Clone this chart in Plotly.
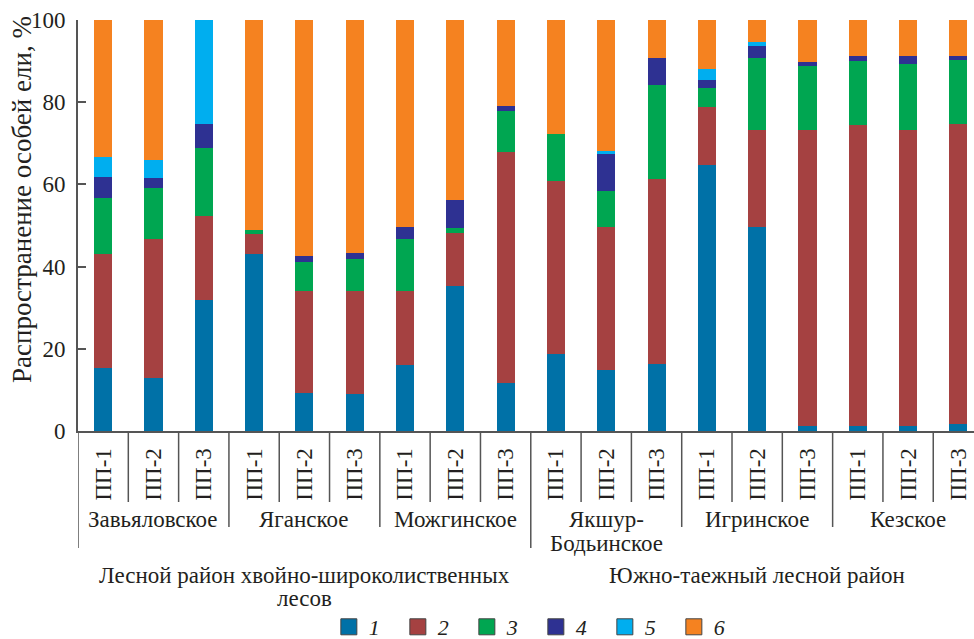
import plotly.graph_objects as go

# ---- data ----
regions = ["Лесной район хвойно-широколиственных<br>лесов", "Южно-таежный лесной район"]
locations = ["Завьяловское", "Яганское", "Можгинское", "Якшур-<br>Бодьинское", "Игринское", "Кезское"]
plots = ["ПП-1", "ПП-2", "ПП-3"]
series_names = ["1", "2", "3", "4", "5", "6"]
colors = ["#0071a7", "#a54141", "#00a651", "#2e3192", "#00aeef", "#f58220"]

s1 = [15.3, 12.9, 31.9, 43.1, 9.2, 9.0, 16.0, 35.3, 11.6, 18.8, 14.9, 16.3, 64.7, 49.6, 1.2, 1.2, 1.2, 1.7]
s2 = [27.7, 33.8, 20.5, 4.9, 24.8, 25.0, 18.0, 12.8, 56.3, 42.0, 34.7, 45.0, 14.1, 23.7, 72.1, 73.2, 72.1, 73.0]
s3 = [13.7, 12.4, 16.5, 0.9, 7.1, 7.8, 12.7, 1.3, 9.9, 11.4, 8.8, 22.9, 4.6, 17.4, 15.5, 15.6, 16.0, 15.6]
s4 = [5.1, 2.4, 5.8, 0.0, 1.4, 1.5, 2.9, 6.8, 1.3, 0.0, 9.0, 6.5, 2.0, 3.0, 1.0, 1.2, 1.9, 0.9]
s5 = [4.8, 4.5, 25.3, 0.0, 0.0, 0.0, 0.0, 0.0, 0.0, 0.0, 0.7, 0.0, 2.7, 0.9, 0.0, 0.0, 0.0, 0.0]
s6 = [33.4, 34.0, 0.0, 51.1, 57.5, 56.7, 50.4, 43.8, 20.9, 27.8, 31.9, 9.3, 11.9, 5.4, 10.2, 8.8, 8.8, 8.8]
y_ticks = [0, 20, 40, 60, 80, 100]
y_title = "Распространение особей ели, %"

series = [s1, s2, s3, s4, s5, s6]
n = len(locations) * len(plots)
xs = list(range(n))
tick_text = plots * len(locations)

FONT = "Liberation Serif"
TXT = "#231f20"
AX = "#555555"

fig = go.Figure()
for name, vals, col in zip(series_names, series, colors):
    fig.add_trace(go.Bar(x=xs, y=vals, name=name, width=0.36, legendgroup=name,
                         showlegend=False, marker=dict(color=col, line=dict(width=0))))
# legend keys (square swatches with a thin dark border)
for name, col in zip(series_names, colors):
    fig.add_trace(go.Scatter(x=[None], y=[None], mode="markers", name=name, legendgroup=name,
                             marker=dict(symbol="square", size=16, color=col,
                                         line=dict(color="#444444", width=1))))

# paper y positions for pixel rows (plot area 20..431 px)
def py(p):
    return (431 - p) / 411.0

shapes = []
line_style = dict(color=AX, width=1.5)
per = len(plots)
for i in range(n - 1):
    bx = i + 0.5
    if (i + 1) % per != 0:
        y1 = py(502)
    elif (i + 1) == n // 2:
        y1 = py(548)
    else:
        y1 = py(527)
    shapes.append(dict(type="line", xref="x", yref="paper", x0=bx, x1=bx, y0=0, y1=y1, line=line_style))
shapes.append(dict(type="line", xref="x", yref="paper", x0=-0.5, x1=-0.5, y0=0, y1=py(548), line=line_style))

annotations = []
for g, loc in enumerate(locations):
    cx = g * per + (per - 1) / 2
    parts = loc.split("<br>")
    for k, part in enumerate(parts):
        annotations.append(dict(xref="x", yref="paper", x=cx, y=py(519 + 24 * k), text=part,
                                showarrow=False, xanchor="center", yanchor="middle",
                                font=dict(family=FONT, size=23, color=TXT)))
half = n // len(regions)
for r, reg in enumerate(regions):
    cx = r * half + (half - 1) / 2
    parts = reg.split("<br>")
    for k, part in enumerate(parts):
        annotations.append(dict(xref="x", yref="paper", x=cx, y=py(575 + 23 * k), text=part,
                                showarrow=False, xanchor="center", yanchor="middle",
                                font=dict(family=FONT, size=23, color=TXT)))
annotations.append(dict(xref="paper", yref="paper", x=(22 - 78) / 896.0, y=py(200), text=y_title,
                        textangle=-90, showarrow=False, xanchor="center", yanchor="middle",
                        font=dict(family=FONT, size=27, color=TXT)))

fig.update_layout(
    barmode="stack",
    width=974, height=639,
    margin=dict(l=78, r=0, t=20, b=208, autoexpand=False),
    plot_bgcolor="white", paper_bgcolor="white",
    bargap=0,
    showlegend=True,
    legend=dict(orientation="h", x=0.511, xanchor="center", y=py(648), yanchor="bottom",
                font=dict(family=FONT, size=22, color=TXT, style="italic"),
                entrywidth=24, entrywidthmode="pixels", traceorder="normal",
                borderwidth=0),
    shapes=shapes,
    annotations=annotations,
    xaxis=dict(range=[-0.5, 17.31], tickmode="array", tickvals=xs, ticktext=tick_text,
               tickangle=-90, ticks="", showline=True, linecolor=AX, linewidth=2,
               showgrid=False, zeroline=False, ticklabelstandoff=6, automargin=False,
               tickfont=dict(family=FONT, size=23, color=TXT)),
    yaxis=dict(range=[0, 100], tickvals=y_ticks, ticks="inside", ticklen=8, tickcolor=AX,
               tickwidth=1.5, showline=True, linecolor=AX, linewidth=2, showgrid=False,
               zeroline=False, ticklabelstandoff=6, automargin=False,
               tickfont=dict(family=FONT, size=23, color=TXT)),
)

fig.write_html("out.html", config={"displayModeBar": False},
               post_script="document.body.style.margin='0';document.body.style.overflow='hidden';")
